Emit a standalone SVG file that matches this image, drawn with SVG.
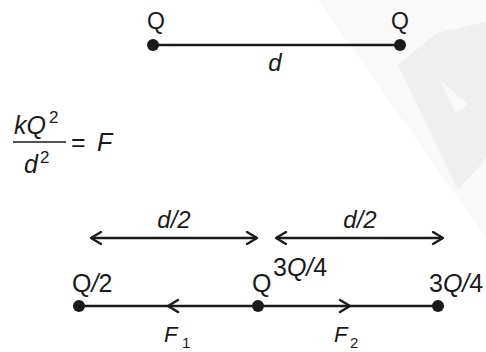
<svg xmlns="http://www.w3.org/2000/svg" width="486" height="352" viewBox="0 0 486 352">
<style>
text{font-family:"Liberation Sans",Arial,sans-serif;font-size:25px;fill:#1a1a1a}
.i{font-style:italic}
.top{font-size:23px}
.half{font-size:24px}
.fm{font-size:25px}
.sup{font-size:17px}
.force{font-size:22px}
.sub{font-size:15px;font-style:normal}
.ln{stroke:#1a1a1a;stroke-width:2.5;fill:none}
.chev{stroke:#1a1a1a;stroke-width:2.5;fill:none;stroke-linecap:round;stroke-linejoin:round}
.dot{fill:#1a1a1a}
</style>
<defs>
<marker id="head" viewBox="0 0 14 14" refX="12" refY="7" markerWidth="14" markerHeight="14" markerUnits="userSpaceOnUse" orient="auto-start-reverse">
<path d="M2,1 L12,7 L2,13" fill="none" stroke="#1a1a1a" stroke-width="2.3" stroke-linecap="round" stroke-linejoin="round"/>
</marker>
</defs>
<rect width="486" height="352" fill="#ffffff"/>
<g id="watermark">
<polygon points="318,0 486,0 486,238" fill="#f9f9f9"/>
<path d="M398,65 L437,33 L486,22 L486,158 L476,170 L458,190 Z M440,80 L456,114 L468,104 Z" fill="#efefef" fill-rule="evenodd"/>
</g>
<g id="connectors">
<line class="ln" x1="153" y1="45" x2="400" y2="45"/>
<line class="ln" x1="91" y1="238" x2="257" y2="238" marker-start="url(#head)" marker-end="url(#head)"/>
<line class="ln" x1="276" y1="238" x2="443" y2="238" marker-start="url(#head)" marker-end="url(#head)"/>
<line class="ln" x1="79" y1="306" x2="438" y2="306"/>
<path class="chev" d="M178,300 L168,306 L178,312"/>
<path class="chev" d="M340,300 L350,306 L340,312"/>
</g>
<g id="labels">
<text class="i half" x="275" y="71" text-anchor="middle">d</text>
<text class="i half" x="174" y="228" text-anchor="middle">d/2</text>
<text class="i half" x="360" y="228" text-anchor="middle">d/2</text>
<text class="i force" x="164" y="342">F<tspan class="sub" x="182" y="348">1</tspan></text>
<text class="i force" x="334" y="342">F<tspan class="sub" x="350" y="348">2</tspan></text>
</g>
<g id="formula">
<text class="i fm" x="14" y="134">kQ</text>
<text class="sup" x="49" y="123">2</text>
<line x1="13" y1="142" x2="66" y2="142" stroke="#1a1a1a" stroke-width="1.5"/>
<text class="i fm" x="24" y="173">d</text>
<text class="sup" x="40" y="163">2</text>
<text class="fm" x="71" y="151">=</text>
<text class="i fm" x="97" y="151">F</text>
</g>
<g id="charge-top-left">
<circle class="dot" cx="153" cy="45" r="6"/>
<text class="top" x="156" y="29" text-anchor="middle">Q</text>
</g>
<g id="charge-top-right">
<circle class="dot" cx="400" cy="45" r="6"/>
<text class="top" x="400" y="29" text-anchor="middle">Q</text>
</g>
<g id="charge-left">
<circle class="dot" cx="79" cy="306" r="6"/>
<text x="72" y="292">Q<tspan class="i">/</tspan>2</text>
</g>
<g id="charge-middle">
<circle class="dot" cx="258" cy="306" r="6"/>
<text x="252" y="292">Q</text>
<text x="273" y="276">3<tspan class="i">Q/</tspan>4</text>
</g>
<g id="charge-right">
<circle class="dot" cx="438" cy="306" r="6"/>
<text x="429" y="292">3<tspan class="i">Q/</tspan>4</text>
</g>
</svg>
